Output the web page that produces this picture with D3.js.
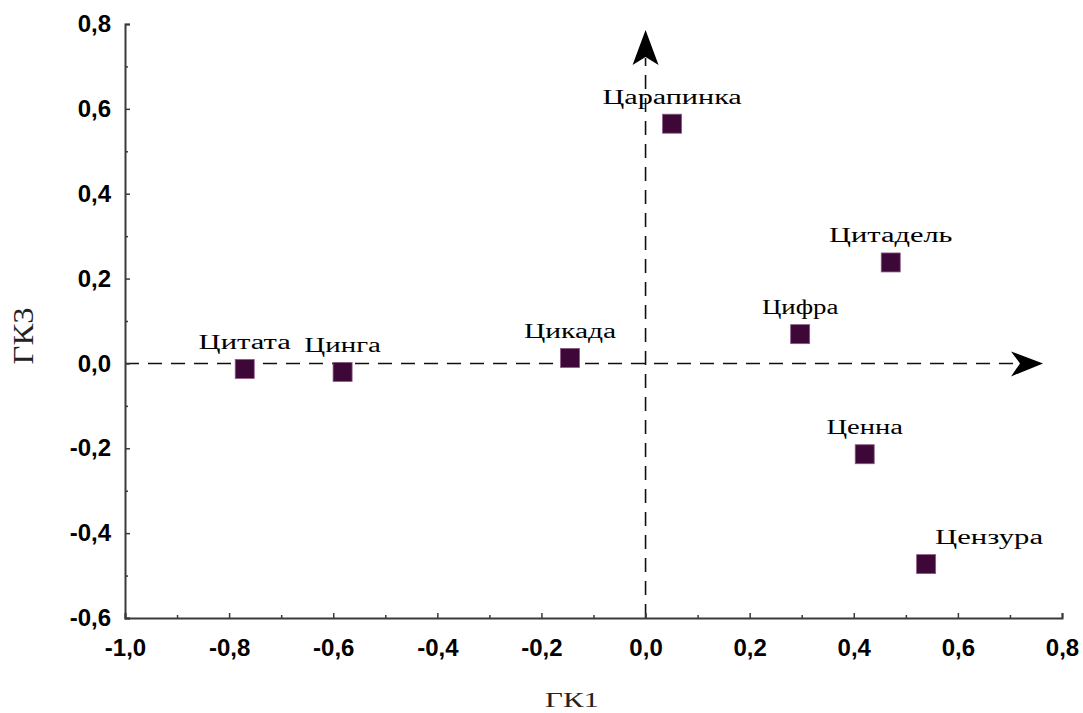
<!DOCTYPE html>
<html>
<head>
<meta charset="utf-8">
<script src="https://cdn.jsdelivr.net/npm/d3@7"></script>
<style>
  html, body { margin: 0; padding: 0; background: #fff; }
  svg { display: block; }
</style>
</head>
<body>
<svg id="chart" width="1083" height="713"></svg>
<script>
// ---- data ----
const words = ["Цитата", "Цинга", "Цикада", "Царапинка", "Цифра", "Цитадель", "Ценна", "Цензура"];
const gk1 = [-0.770, -0.582, -0.145, 0.051, 0.297, 0.471, 0.421, 0.539];
const gk3 = [-0.013, -0.020, 0.013, 0.565, 0.069, 0.238, -0.214, -0.473];
const labelAnchor = ["middle", "middle", "middle", "middle", "middle", "middle", "middle", "start"];
const xTicks = [-1.0, -0.8, -0.6, -0.4, -0.2, 0.0, 0.2, 0.4, 0.6, 0.8];
const yTicks = [-0.6, -0.4, -0.2, 0.0, 0.2, 0.4, 0.6, 0.8];
const xMinor = [-0.9, -0.7, -0.5, -0.3, -0.1, 0.1, 0.3, 0.5, 0.7];
const yMinor = [-0.5, -0.3, -0.1, 0.1, 0.3, 0.5, 0.7];
const xTitle = "ГК1";
const yTitle = "ГК3";

const svg = d3.select("#chart");
const x = d3.scaleLinear().domain([-1.0, 0.8]).range([125, 1062]);
const y = d3.scaleLinear().domain([-0.6, 0.8]).range([618, 24]);
const fmt = v => d3.format(".1f")(v).replace(".", ",").replace("−", "-");

const axisColor = "#3a3a3a";
const tickFont = "'Liberation Sans', Arial, sans-serif";
const labelFont = "'Liberation Serif', 'Times New Roman', serif";

// dashed reference lines with arrows
const dash = "14,9";
svg.append("line")
  .attr("x1", x(-1.0)).attr("x2", 1022)
  .attr("y1", y(0)).attr("y2", y(0))
  .attr("stroke", "#111").attr("stroke-width", 1.6).attr("stroke-dasharray", dash);
svg.append("line")
  .attr("x1", x(0)).attr("x2", x(0))
  .attr("y1", y(-0.6)).attr("y2", 58)
  .attr("stroke", "#111").attr("stroke-width", 1.6).attr("stroke-dasharray", dash);

// arrowheads
const hx = 1043, hy = y(0);
svg.append("path")
  .attr("d", `M${hx},${hy} L${hx-32},${hy-12} L${hx-23},${hy} L${hx-32},${hy+13} Z`)
  .attr("fill", "#000");
const vx = x(0), vy = 30;
svg.append("path")
  .attr("d", `M${vx},${vy} L${vx-13},${vy+35} L${vx},${vy+27} L${vx+13},${vy+35} Z`)
  .attr("fill", "#000");

// axes
const gy = svg.append("g").attr("transform", `translate(${x(-1.0)},0)`);
gy.call(d3.axisLeft(y).tickValues(yTicks).tickFormat(fmt).tickSize(-5).tickPadding(14));
const gyMinor = svg.append("g").attr("transform", `translate(${x(-1.0)},0)`);
gyMinor.call(d3.axisLeft(y).tickValues(yMinor).tickFormat("").tickSize(-3));

const gx = svg.append("g").attr("transform", `translate(0,${y(-0.6)})`);
gx.call(d3.axisBottom(x).tickValues(xTicks).tickFormat(fmt).tickSize(-5).tickPadding(21));
const gxMinor = svg.append("g").attr("transform", `translate(0,${y(-0.6)})`);
gxMinor.call(d3.axisBottom(x).tickValues(xMinor).tickFormat("").tickSize(-3));

[gy, gyMinor, gx, gxMinor].forEach(g => {
  g.select(".domain").attr("stroke", axisColor).attr("stroke-width", 2);
  g.selectAll(".tick line").attr("stroke", axisColor).attr("stroke-width", 1.5);
  g.selectAll(".tick text")
    .attr("fill", "#000")
    .style("font-family", tickFont)
    .style("font-size", "24px")
    .style("font-weight", "bold");
});
gyMinor.select(".domain").remove();
gxMinor.select(".domain").remove();

// points
const pts = words.map((w, i) => ({ w, gx: gk1[i], gy: gk3[i], anchor: labelAnchor[i] }));
const sz = 19;
svg.append("g").selectAll("rect").data(pts).join("rect")
  .attr("x", d => x(d.gx) - sz / 2)
  .attr("y", d => y(d.gy) - sz / 2)
  .attr("width", sz).attr("height", sz)
  .attr("fill", "#3d0838")
  .attr("stroke", "#8a5a86").attr("stroke-width", 0.8);

svg.append("g").selectAll("text").data(pts).join("text")
  .attr("x", d => d.anchor === "start" ? x(d.gx) + 9 : x(d.gx))
  .attr("y", d => y(d.gy) - 20)
  .attr("text-anchor", d => d.anchor)
  .attr("textLength", d => d.w.length * 15.7 - 2)
  .attr("lengthAdjust", "spacingAndGlyphs")
  .style("font-family", labelFont)
  .style("font-size", "20px")
  .attr("fill", "#000")
  .text(d => d.w);

// axis titles
svg.append("text")
  .attr("x", 572).attr("y", 707)
  .attr("text-anchor", "middle")
  .attr("textLength", 54).attr("lengthAdjust", "spacingAndGlyphs")
  .style("font-family", labelFont).style("font-size", "21px")
  .attr("fill", "#222")
  .text(xTitle);
svg.append("text")
  .attr("transform", "translate(33,336) rotate(-90)")
  .attr("text-anchor", "middle")
  .attr("textLength", 57).attr("lengthAdjust", "spacingAndGlyphs")
  .style("font-family", labelFont).style("font-size", "29px")
  .attr("fill", "#222")
  .text(yTitle);
</script>
</body>
</html>
